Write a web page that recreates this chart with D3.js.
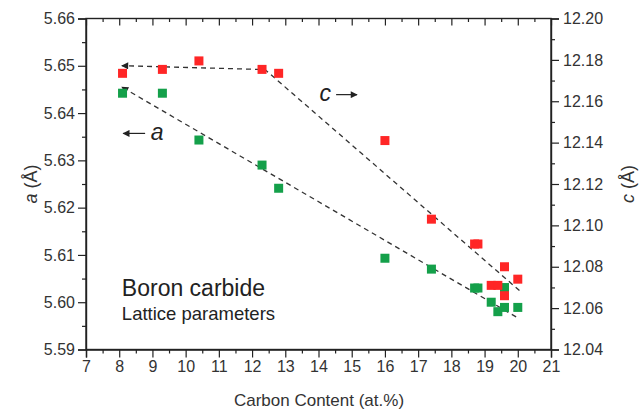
<!DOCTYPE html>
<html><head><meta charset="utf-8">
<script src="https://cdn.jsdelivr.net/npm/d3@7"></script>
<style>
html,body{margin:0;padding:0;background:#fff;}
svg{display:block;font-family:"Liberation Sans",Arial,sans-serif;}
</style></head>
<body><svg id="chart" width="639" height="413"></svg>
<script>
// ---- data ----
const carbon = [8.1, 9.3, 10.4, 12.3, 12.8, 16.0, 17.4, 18.7, 18.8, 19.2, 19.4, 19.6, 19.6, 20.0];
const cValues = [12.1735, 12.1754, 12.1795, 12.1754, 12.1735, 12.141, 12.103, 12.091, 12.091, 12.071, 12.071, 12.080, 12.066, 12.074];
const aValues = [5.6442, 5.6442, 5.6343, 5.629, 5.6241, 5.6093, 5.607, 5.603, 5.603, 5.600, 5.598, 5.6031, 5.5989, 5.5989];
const xTicks = [7,8,9,10,11,12,13,14,15,16,17,18,19,20,21];
const aTicks = [5.59,5.60,5.61,5.62,5.63,5.64,5.65,5.66];
const cTicks = [12.04,12.06,12.08,12.10,12.12,12.14,12.16,12.18,12.20];
const cTrend = [[20.05,12.0685],[12.39,12.1753],[8.08,12.1772]];
const aTrend = [[19.95,5.5969],[8.08,5.6455]];

(function(){
const svg = d3.select("#chart");
const L=86, R=551, T=18.5, B=349.5;
const x = d3.scaleLinear().domain([7,21]).range([L,R]);
const ya = d3.scaleLinear().domain([5.59,5.66]).range([B,T]);
const yc = d3.scaleLinear().domain([12.04,12.20]).range([B,T]);

const defs = svg.append("defs");
defs.append("marker").attr("id","ah").attr("viewBox","0 0 10 10")
  .attr("refX",9).attr("refY",5).attr("markerWidth",9).attr("markerHeight",7)
  .attr("markerUnits","userSpaceOnUse").attr("orient","auto")
  .append("path").attr("d","M0,0 L10,5 L0,10 Z").attr("fill","#222");

const fs = 16;
const gBottom = svg.append("g").attr("transform",`translate(0,${B})`)
  .call(d3.axisBottom(x).tickValues(xTicks).tickFormat(d3.format("d")).tickSize(8).tickPadding(3));
const gBottomMinor = svg.append("g").attr("transform",`translate(0,${B})`)
  .call(d3.axisBottom(x).tickValues(d3.range(7.5,21,1)).tickFormat("").tickSize(4));
const gTop = svg.append("g").attr("transform",`translate(0,${T})`)
  .call(d3.axisBottom(x).tickValues(xTicks).tickFormat("").tickSize(7));
const gTopMinor = svg.append("g").attr("transform",`translate(0,${T})`)
  .call(d3.axisBottom(x).tickValues(d3.range(7.5,21,1)).tickFormat("").tickSize(3.5));
const gLeft = svg.append("g").attr("transform",`translate(${L},0)`)
  .call(d3.axisLeft(ya).tickValues(aTicks).tickFormat(d3.format(".2f")).tickSize(8).tickPadding(3));
const gLeftMinor = svg.append("g").attr("transform",`translate(${L},0)`)
  .call(d3.axisLeft(ya).tickValues(d3.range(5.595,5.66,0.01)).tickFormat("").tickSize(4));
const gRight = svg.append("g").attr("transform",`translate(${R},0)`)
  .call(d3.axisRight(yc).tickValues(cTicks).tickFormat(d3.format(".2f")).tickSize(8).tickPadding(4));
const gRightMinor = svg.append("g").attr("transform",`translate(${R},0)`)
  .call(d3.axisRight(yc).tickValues(d3.range(12.05,12.20,0.02)).tickFormat("").tickSize(4));

svg.selectAll(".domain").attr("stroke","#222").attr("stroke-width",1.4);
svg.selectAll(".tick line").attr("stroke","#222").attr("stroke-width",1.2);
svg.selectAll(".tick text").attr("font-size",fs).attr("fill","#333")
  .attr("font-family","Liberation Sans, Arial, sans-serif");
[gTop, gTopMinor, gBottomMinor, gLeftMinor, gRightMinor].forEach(g=>g.select(".domain").remove());
svg.append("rect").attr("x",L).attr("y",T).attr("width",R-L).attr("height",B-T)
  .attr("fill","none").attr("stroke","#222").attr("stroke-width",1.4);

// axis titles
svg.append("text").attr("x",319).attr("y",406).attr("text-anchor","middle")
  .attr("font-size",17).attr("fill","#333").text("Carbon Content (at.%)");
const la = svg.append("text").attr("transform",`translate(37,${(T+B)/2}) rotate(-90)`)
  .attr("text-anchor","middle").attr("font-size",18).attr("fill","#333");
la.append("tspan").attr("font-style","italic").text("a");
la.append("tspan").text(" (Å)");
const lc = svg.append("text").attr("transform",`translate(634,${(T+B)/2}) rotate(-90)`)
  .attr("text-anchor","middle").attr("font-size",18).attr("fill","#333");
lc.append("tspan").attr("font-style","italic").text("c");
lc.append("tspan").text(" (Å)");

// trend lines
const lineC = d3.line().x(d=>x(d[0])).y(d=>yc(d[1]));
const lineA = d3.line().x(d=>x(d[0])).y(d=>ya(d[1]));
svg.append("path").attr("d",lineC(cTrend)).attr("fill","none").attr("stroke","#333")
  .attr("stroke-width",1.3).attr("stroke-dasharray","5,4").attr("marker-end","url(#ah)");
svg.append("path").attr("d",lineA(aTrend)).attr("fill","none").attr("stroke","#333")
  .attr("stroke-width",1.3).attr("stroke-dasharray","5,4").attr("marker-end","url(#ah)");

// points
const ms = 9;
const pts = carbon.map((c,i)=>({x:c,a:aValues[i],c:cValues[i]}));
svg.append("g").selectAll("rect").data(pts).join("rect")
  .attr("x",d=>x(d.x)-ms/2).attr("y",d=>ya(d.a)-ms/2).attr("width",ms).attr("height",ms)
  .attr("fill","#14a04a");
svg.append("g").selectAll("rect").data(pts).join("rect")
  .attr("x",d=>x(d.x)-ms/2).attr("y",d=>yc(d.c)-ms/2).attr("width",ms).attr("height",ms)
  .attr("fill","#ff2626");

// annotations
svg.append("text").attr("x",x(14.2)).attr("y",yc(12.1634)+7).attr("text-anchor","middle")
  .attr("font-size",23).attr("font-style","italic").attr("fill","#222").text("c");
svg.append("line").attr("x1",x(14.53)).attr("x2",x(15.16)).attr("y1",yc(12.1632)).attr("y2",yc(12.1632))
  .attr("stroke","#222").attr("stroke-width",1.2).attr("marker-end","url(#ah)");
svg.append("text").attr("x",x(9.14)).attr("y",ya(5.6358)+7).attr("text-anchor","middle")
  .attr("font-size",23).attr("font-style","italic").attr("fill","#222").text("a");
svg.append("line").attr("x1",x(8.78)).attr("x2",x(8.12)).attr("y1",ya(5.6357)).attr("y2",ya(5.6357))
  .attr("stroke","#222").attr("stroke-width",1.2).attr("marker-end","url(#ah)");

svg.append("text").attr("x",x(8.08)).attr("y",ya(5.6014)).attr("font-size",23).attr("fill","#222")
  .text("Boron carbide");
svg.append("text").attr("x",x(8.08)).attr("y",ya(5.5963)).attr("font-size",18.5).attr("fill","#222")
  .text("Lattice parameters");
})();
</script></body></html>
